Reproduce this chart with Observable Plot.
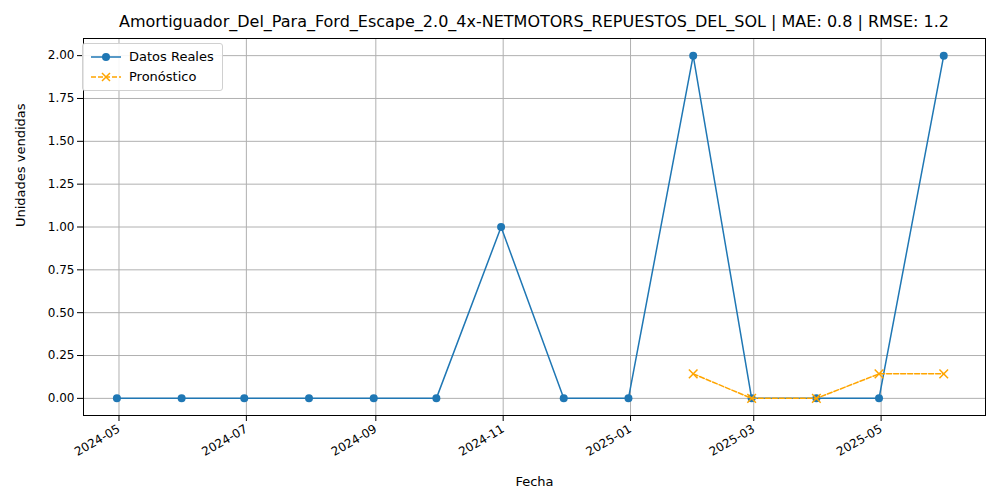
<!DOCTYPE html>
<html><head><meta charset="utf-8">
<script src="https://cdn.jsdelivr.net/npm/d3@7"></script>
<script src="https://cdn.jsdelivr.net/npm/@observablehq/plot@0.6"></script>
<style>
body{margin:0;font-family:"DejaVu Sans",sans-serif;background:#fff}
#wrap{position:relative;width:1000px;height:500px}
#title{position:absolute;top:12px;left:83px;width:902px;text-align:center;font-size:16px;color:#000}
#legend{position:absolute;left:82px;top:43px;background:rgba(255,255,255,0.9);border:1px solid #d0d0d0;border-radius:3px;padding:3px 8px;font-size:13px;line-height:20px}
#legend div{display:flex;align-items:center}
#legend svg{margin-right:8px}
</style></head><body>
<div id="wrap"><div id="title">Amortiguador_Del_Para_Ford_Escape_2.0_4x-NETMOTORS_REPUESTOS_DEL_SOL | MAE: 0.8 | RMSE: 1.2</div>
<div id="legend">
<div><svg width="30" height="12"><line x1="0" y1="6" x2="30" y2="6" stroke="#1f77b4" stroke-width="1.5"/><circle cx="15" cy="6" r="4" fill="#1f77b4"/></svg>Datos Reales</div>
<div><svg width="30" height="12"><line x1="0" y1="6" x2="30" y2="6" stroke="orange" stroke-width="1.5" stroke-dasharray="5,2"/><path d="M11,2L19,10M19,2L11,10" stroke="orange" stroke-width="1.5"/></svg>Pronóstico</div>
</div></div>
<script>
const realDates=["2024-04-30","2024-05-31","2024-06-30","2024-07-31","2024-08-31","2024-09-30","2024-10-31","2024-11-30","2024-12-31","2025-01-31","2025-02-28","2025-03-31","2025-04-30","2025-05-31"];
const realValues=[0,0,0,0,0,0,1,0,0,2,0,0,0,2];
const fcDates=["2025-01-31","2025-02-28","2025-03-31","2025-04-30","2025-05-31"];
const fcValues=[0.143,0,0,0.143,0.143];
const yTicks=[0,0.25,0.5,0.75,1,1.25,1.5,1.75,2];
const xTicks=["2024-05-01","2024-07-01","2024-09-01","2024-11-01","2025-01-01","2025-03-01","2025-05-01"];
const real=realDates.map((d,i)=>({d:new Date(d),v:realValues[i]}));
const fc=fcDates.map((d,i)=>({d:new Date(d),v:fcValues[i]}));
const xt=xTicks.map(d=>new Date(d));
const chart=Plot.plot({
 width:1000,height:500,marginLeft:83,marginRight:15,marginTop:38,marginBottom:85,
 style:{fontFamily:"DejaVu Sans",fontSize:"12px",color:"#000"},
 x:{type:"utc",domain:[new Date("2024-04-14"),new Date("2025-06-20")],ticks:xt,tickFormat:d3.utcFormat("%Y-%m"),tickRotate:-30,label:null},
 y:{domain:[-0.1,2.1],ticks:yTicks,tickFormat:d3.format(".2f"),label:null},
 marks:[
  Plot.gridX(xt,{stroke:"#b0b0b0",strokeOpacity:1}),
  Plot.gridY(yTicks,{stroke:"#b0b0b0",strokeOpacity:1}),
  Plot.frame({stroke:"#000"}),
  Plot.axisX({ticks:xt,tickFormat:d3.utcFormat("%Y-%m"),tickRotate:-30,label:null,fontSize:12}),
  Plot.axisY({ticks:yTicks,tickFormat:d3.format(".2f"),label:null,fontSize:12}),
  Plot.line(real,{x:"d",y:"v",stroke:"#1f77b4",strokeWidth:1.5}),
  Plot.dot(real,{x:"d",y:"v",fill:"#1f77b4",r:4}),
  Plot.line(fc,{x:"d",y:"v",stroke:"orange",strokeWidth:1.5,strokeDasharray:"5,2"}),
  Plot.dot(fc,{x:"d",y:"v",stroke:"orange",symbol:"times",r:4,strokeWidth:1.5}),
  Plot.text(["Fecha"],{frameAnchor:"bottom",dy:70,fontSize:13}),
  Plot.text(["Unidades vendidas"],{frameAnchor:"left",dx:-63,rotate:-90,fontSize:13})
 ]});
document.getElementById("wrap").prepend(chart);
</script></body></html>
